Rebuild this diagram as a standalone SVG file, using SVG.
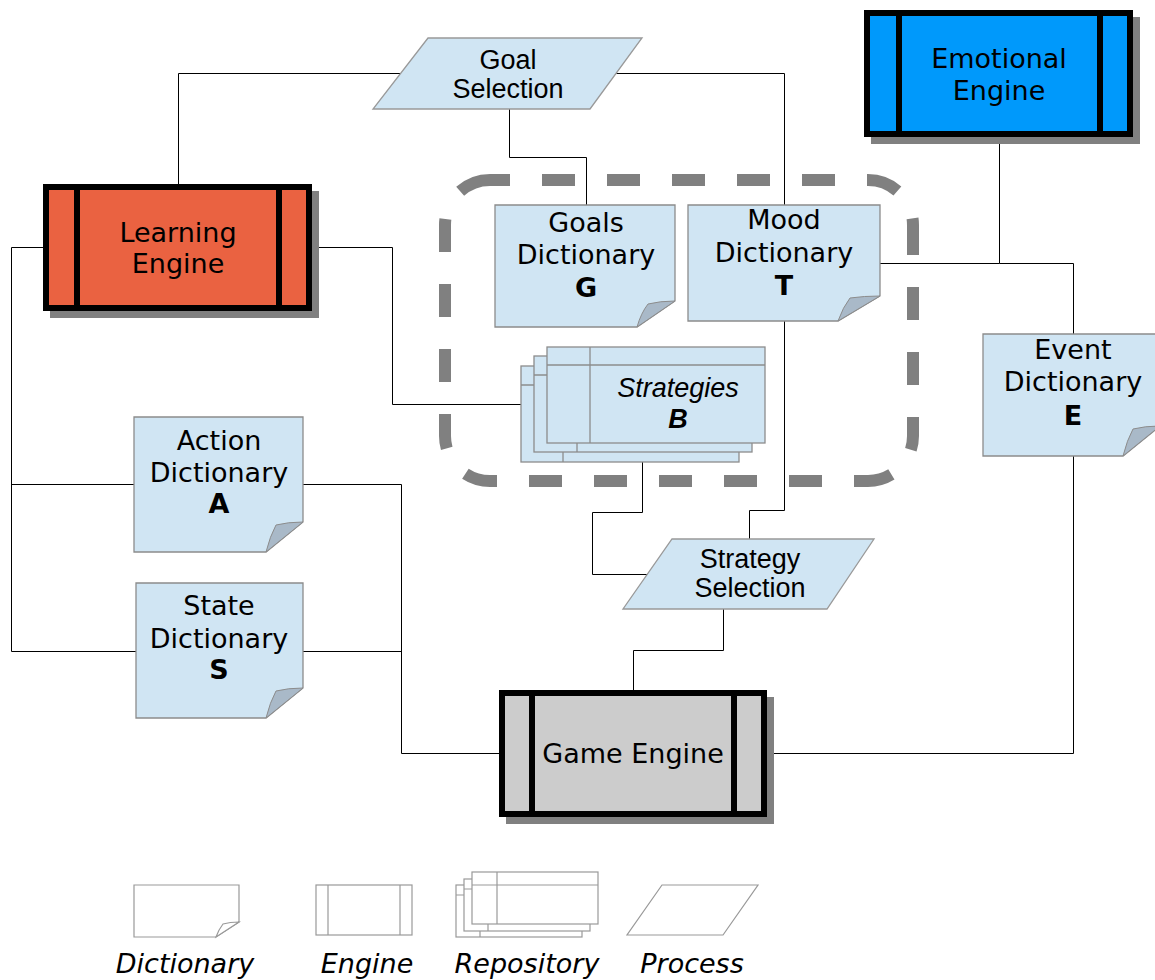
<svg xmlns="http://www.w3.org/2000/svg" width="1155" height="980" viewBox="0 0 1155 980">
  <style>
    .lbl { font-family: "DejaVu Sans", Verdana, sans-serif; font-size: 27px; fill: #000; text-anchor: middle; }
    .bold { font-weight: bold; }
    .arial { font-family: "Liberation Sans", Arial, sans-serif; font-size: 27px; fill: #000; text-anchor: middle; }
    .legend { font-family: "DejaVu Sans", Verdana, sans-serif; font-size: 27px; font-style: italic; fill: #000; text-anchor: middle; }
    .wire { fill: none; stroke: #000; stroke-width: 1; }
    .dict { fill: #d0e5f3; stroke: #8c8c8c; stroke-width: 1.3; }
    .fold { fill: #a9b9c8; stroke: #8c8c8c; stroke-width: 1; }
    .repo { fill: #d0e5f3; stroke: #8c8c8c; stroke-width: 1.3; }
    .proc { fill: #d0e5f3; stroke: #999; stroke-width: 1.3; }
    .shadow { fill: #808080; }
    .eng { stroke: #000; stroke-width: 6; }
    .bar { stroke: #000; stroke-width: 6; }
    .group { fill: none; stroke: #808080; stroke-width: 12; stroke-dasharray: 33 32; }
    .icon { fill: #fff; stroke: #999; stroke-width: 1.2; }
  </style>

  <!-- connectors -->
  <g id="connectors">
    <path class="wire" d="M178.5,184 V73.5 H401"/>
    <path class="wire" d="M616,73.5 H784.5 V205"/>
    <path class="wire" d="M784.5,321 V510.5 H749.5 V539"/>
    <path class="wire" d="M509.5,109 V157.5 H586.5 V205"/>
    <path class="wire" d="M43,247.5 H11.5 V651.5 H136"/>
    <path class="wire" d="M11.5,484.5 H134"/>
    <path class="wire" d="M312,247.5 H392.5 V404.5 H521"/>
    <path class="wire" d="M303,484.5 H401.5 V753.5 H499"/>
    <path class="wire" d="M303,651.5 H401.5"/>
    <path class="wire" d="M642.5,462 V512.5 H592.5 V574.5 H648"/>
    <path class="wire" d="M723.5,609 V650.5 H633.5 V690"/>
    <path class="wire" d="M999.5,137 V263.5 H880"/>
    <path class="wire" d="M999.5,263.5 H1073.5 V334"/>
    <path class="wire" d="M1073.5,456 V753.5 H767"/>
  </g>

  <!-- dashed grouping frame around the dictionaries and strategies -->
  <g id="group-frame">
    <path class="group" stroke-dashoffset="13" d="M490,180 H868 A45,45 0 0 1 913,225"/>
    <path class="group" stroke-dashoffset="3" d="M913,225 V436 A45,45 0 0 1 868,481"/>
    <path class="group" stroke-dashoffset="19" d="M868,481 H490 A45,45 0 0 1 445,436"/>
    <path class="group" stroke-dashoffset="11" d="M445,436 V225 A45,45 0 0 1 490,180"/>
  </g>

  <!-- Learning Engine -->
  <g id="learning-engine">
    <rect class="shadow" x="50" y="191" width="269" height="127"/>
    <rect class="eng" x="46" y="187" width="263" height="121" fill="#ea6241"/>
    <line class="bar" x1="77" y1="187" x2="77" y2="308"/>
    <line class="bar" x1="279" y1="187" x2="279" y2="308"/>
    <text class="lbl" x="178" y="242">Learning</text>
    <text class="lbl" x="178" y="273">Engine</text>
  </g>

  <!-- Emotional Engine -->
  <g id="emotional-engine">
    <rect class="shadow" x="871" y="17" width="269" height="127"/>
    <rect class="eng" x="867" y="13" width="263" height="121" fill="#0099fb"/>
    <line class="bar" x1="899" y1="13" x2="899" y2="134"/>
    <line class="bar" x1="1100" y1="13" x2="1100" y2="134"/>
    <text class="lbl" x="999" y="68">Emotional</text>
    <text class="lbl" x="999" y="100">Engine</text>
  </g>

  <!-- Game Engine -->
  <g id="game-engine">
    <rect class="shadow" x="506" y="697" width="268" height="127"/>
    <rect class="eng" x="502" y="693" width="262" height="121" fill="#cccccc"/>
    <line class="bar" x1="532" y1="693" x2="532" y2="814"/>
    <line class="bar" x1="734" y1="693" x2="734" y2="814"/>
    <text class="lbl" x="633" y="763">Game Engine</text>
  </g>

  <!-- Goal Selection -->
  <g id="goal-selection">
    <polygon class="proc" points="428,38 642,38 590,109 373,109"/>
    <text class="arial" x="508" y="69">Goal</text>
    <text class="arial" x="508" y="98">Selection</text>
  </g>

  <!-- Strategy Selection -->
  <g id="strategy-selection">
    <polygon class="proc" points="672,539 874,539 827,609 623,609"/>
    <text class="arial" x="750" y="568">Strategy</text>
    <text class="arial" x="750" y="597">Selection</text>
  </g>

  <!-- Goals Dictionary -->
  <g id="goals-dictionary">
    <path class="dict" d="M495,205 H675 V301 L637,327 H495 Z"/>
    <path class="fold" d="M637,327 Q641,313 648,304 Q660,301 675,301 Z"/>
    <text class="lbl" x="586" y="232">Goals</text>
    <text class="lbl" x="586" y="264">Dictionary</text>
    <text class="lbl bold" x="586" y="297">G</text>
  </g>

  <!-- Mood Dictionary -->
  <g id="mood-dictionary">
    <path class="dict" d="M688,205 H880 V296 L838,321 H688 Z"/>
    <path class="fold" d="M838,321 Q843,307 850,298 Q864,296 880,296 Z"/>
    <text class="lbl" x="784" y="229">Mood</text>
    <text class="lbl" x="784" y="262">Dictionary</text>
    <text class="lbl bold" x="784" y="295">T</text>
  </g>

  <!-- Strategies repository -->
  <g id="strategies">
    <rect class="repo" x="521" y="366" width="218" height="96"/>
    <line class="repo" x1="521" y1="385" x2="739" y2="385"/>
    <line class="repo" x1="563" y1="366" x2="563" y2="462"/>
    <rect class="repo" x="534" y="356" width="218" height="96"/>
    <line class="repo" x1="534" y1="375" x2="752" y2="375"/>
    <line class="repo" x1="577" y1="356" x2="577" y2="452"/>
    <rect class="repo" x="547" y="347" width="218" height="96"/>
    <line class="repo" x1="547" y1="365" x2="765" y2="365"/>
    <line class="repo" x1="590" y1="347" x2="590" y2="443"/>
    <text class="arial" x="678" y="397" font-style="italic">Strategies</text>
    <text class="arial" x="678" y="428" font-style="italic" font-weight="bold">B</text>
  </g>

  <!-- Action Dictionary -->
  <g id="action-dictionary">
    <path class="dict" d="M134,417 H303 V522 L266,552 H134 Z"/>
    <path class="fold" d="M266,552 Q270,536 276,525 Q288,522 303,522 Z"/>
    <text class="lbl" x="219" y="450">Action</text>
    <text class="lbl" x="219" y="482">Dictionary</text>
    <text class="lbl bold" x="219" y="513">A</text>
  </g>

  <!-- State Dictionary -->
  <g id="state-dictionary">
    <path class="dict" d="M136,583 H303 V688 L266,718 H136 Z"/>
    <path class="fold" d="M266,718 Q270,702 276,691 Q288,688 303,688 Z"/>
    <text class="lbl" x="219" y="615">State</text>
    <text class="lbl" x="219" y="648">Dictionary</text>
    <text class="lbl bold" x="219" y="679">S</text>
  </g>

  <!-- Event Dictionary -->
  <g id="event-dictionary">
    <path class="dict" d="M983,334 H1160 V426 L1123,456 H983 Z"/>
    <path class="fold" d="M1123,456 Q1127,440 1133,429 Q1145,426 1160,426 Z"/>
    <text class="lbl" x="1073" y="359">Event</text>
    <text class="lbl" x="1073" y="391">Dictionary</text>
    <text class="lbl bold" x="1073" y="425">E</text>
  </g>

  <!-- legend -->
  <g id="legend-dictionary">
    <path class="icon" d="M134,885 H239 V922 L216,937 H134 Z"/>
    <path class="icon" d="M216,937 Q219,929 223,924 Q230,922 239,922 Z"/>
    <text class="legend" x="185" y="973">Dictionary</text>
  </g>
  <g id="legend-engine">
    <rect class="icon" x="316" y="885" width="96" height="50"/>
    <line class="icon" x1="328" y1="885" x2="328" y2="935"/>
    <line class="icon" x1="400" y1="885" x2="400" y2="935"/>
    <text class="legend" x="367" y="973">Engine</text>
  </g>
  <g id="legend-repository">
    <rect class="icon" x="456" y="885" width="126" height="52"/>
    <line class="icon" x1="456" y1="895" x2="582" y2="895"/>
    <line class="icon" x1="480" y1="885" x2="480" y2="937"/>
    <rect class="icon" x="464" y="879" width="126" height="52"/>
    <line class="icon" x1="464" y1="889" x2="590" y2="889"/>
    <line class="icon" x1="488" y1="879" x2="488" y2="931"/>
    <rect class="icon" x="472" y="872" width="126" height="52"/>
    <line class="icon" x1="472" y1="885" x2="598" y2="885"/>
    <line class="icon" x1="497" y1="872" x2="497" y2="924"/>
    <text class="legend" x="527" y="973">Repository</text>
  </g>
  <g id="legend-process">
    <polygon class="icon" points="662,885 758,885 723,935 627,935"/>
    <text class="legend" x="692" y="973">Process</text>
  </g>
</svg>
